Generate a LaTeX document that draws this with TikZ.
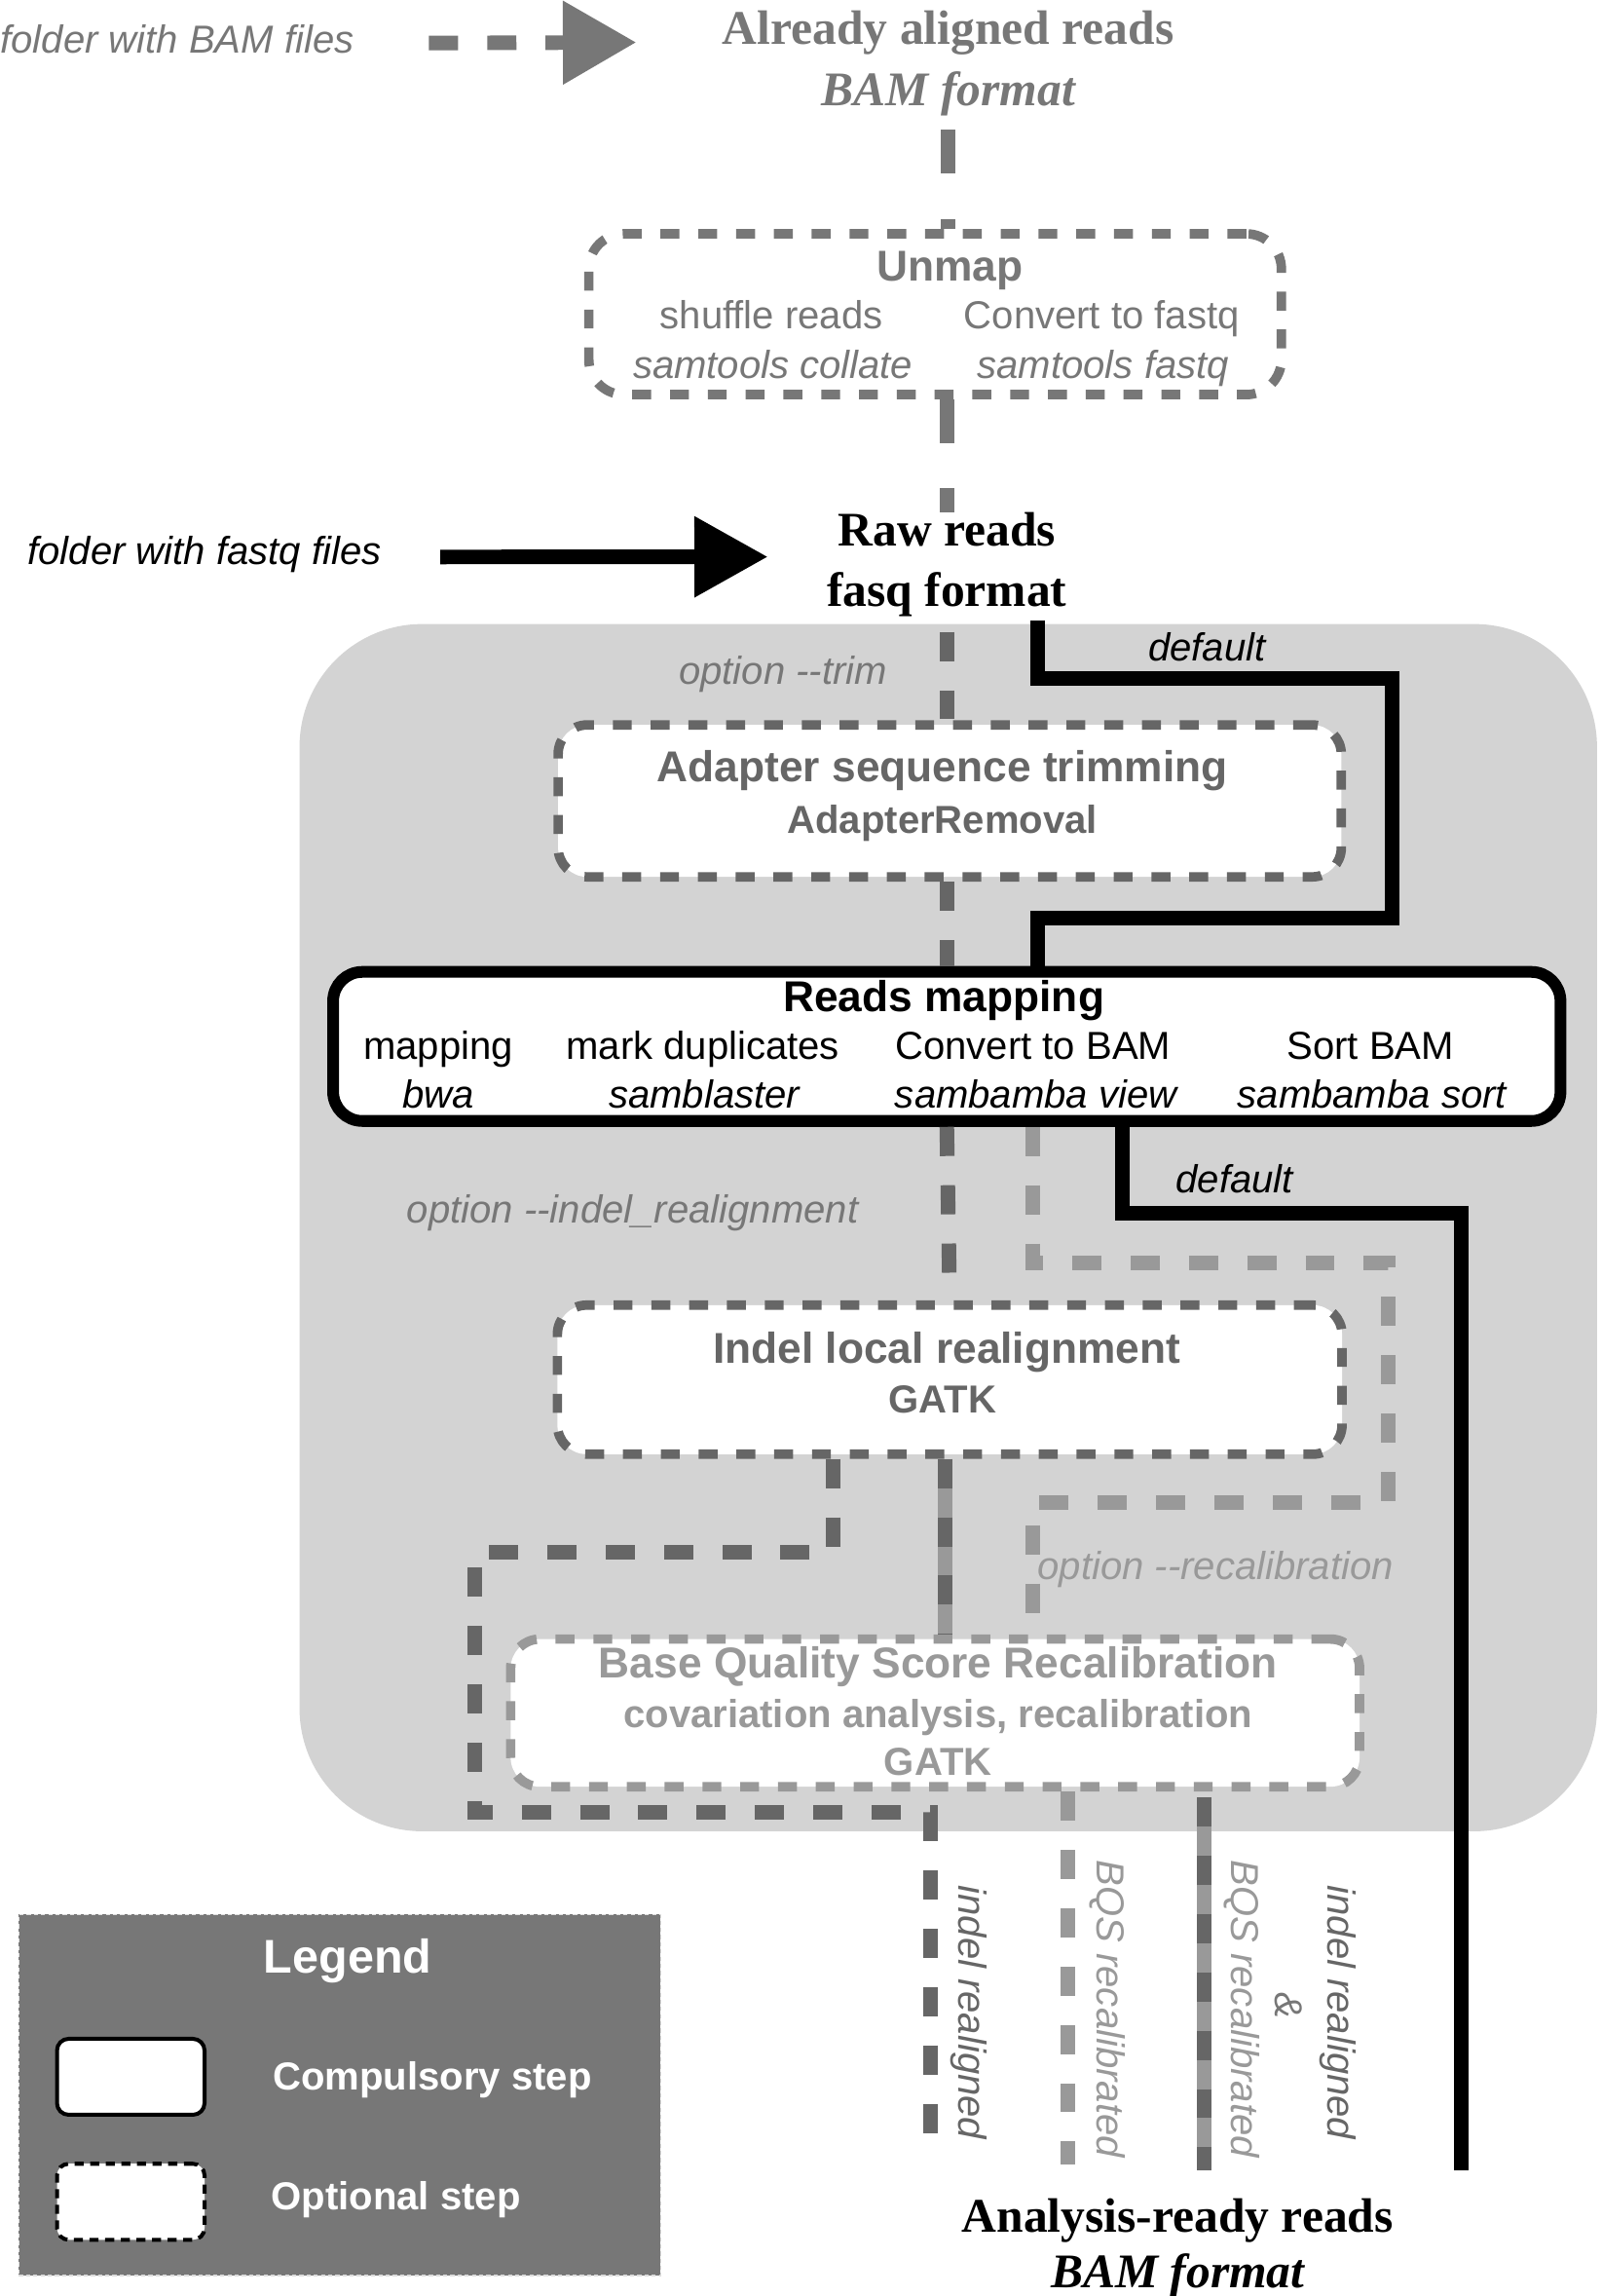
\documentclass[tikz,border=0pt]{standalone}
\usepackage{fontspec}
\setmainfont{Liberation Sans}
\newfontfamily\titlefont{Liberation Serif}
\usepackage{xcolor}
\usepackage{tikz}
\usetikzlibrary{calc,arrows.meta}
\definecolor{bg}{HTML}{D3D3D3}
\definecolor{dk}{HTML}{666666}
\definecolor{md}{HTML}{777777}
\definecolor{lt}{HTML}{999999}
\newcommand\optdash{-\kern0pt-}
\tikzset{
  txt/.style={inner sep=0pt, anchor=base, font=\fontsize{19}{23}\selectfont},
  txti/.style={txt, font=\fontsize{19}{23}\selectfont\itshape},
  txtb/.style={txt, font=\fontsize{19}{23}\selectfont\bfseries},
  head/.style={txt, font=\fontsize{21}{25}\selectfont\bfseries},
  ttl/.style={txt, font=\titlefont\fontsize{23.5}{28}\selectfont\bfseries},
  ttli/.style={txt, font=\titlefont\fontsize{23.5}{28}\selectfont\bfseries\itshape},
  rot/.style={inner sep=0pt, rotate=-90, font=\fontsize{19}{23}\selectfont\itshape},
  optbox/.style={draw=#1, rounded corners=5mm, fill=white, line width=4.6pt, dash pattern=on 9.2pt off 9.2pt, inner sep=0pt},
  mapbox/.style={draw=black, rounded corners=5mm, fill=white, line width=5.7pt, inner sep=0pt},
  flow/.style={line width=7.1pt, dash pattern=on 14.2pt off 14.2pt},
  topl/.style={draw=md, line width=7.1pt, dash pattern=on 21.3pt off 22pt},
  defl/.style={draw=black, line width=7.1pt},
  mixl/.style={flow, draw=dk, preaction={draw=lt, line width=7.1pt, solid}},
  legbox/.style={rounded corners=2mm, fill=white, line width=1.9pt, inner sep=0pt, minimum width=25.25mm, minimum height=13mm},
}

\begin{document}
\begin{tikzpicture}[x=0.25mm, y=-0.25mm]
  \useasboundingbox (0,0) rectangle (1096,1571);
  % grey panel behind the processing steps
  \fill[bg, rounded corners=21mm] (205,427) rectangle (1093,1253);

  % inputs
  \node[txti, text=md, anchor=base west] (bamin) at (0,36) {folder with BAM files};
  \node[ttl, text=md] (bam) at (649,30.4) {Already aligned reads};
  \node[ttli, text=md] (bamfmt) at (649,72.5) {BAM format};
  \node[txti] (fqin) at (140,386) {folder with fastq files};
  \node[ttl] (raw) at (648,373.5) {Raw reads};
  \node[ttl] (rawfmt) at (648,415) {fasq format};
  \coordinate (bamtip) at (435,29);
  \coordinate (fqtip) at (525,381);

  % steps
  \node[optbox=md, rounded corners=6mm, minimum width=118.5mm, minimum height=27.5mm] (unmap) at (640,215) {};
  \node[head, text=md] (unmapT) at (650,192) {Unmap};
  \node[txt, text=md] (shuf) at (528,225) {shuffle reads};
  \node[txt, text=md] (conv) at (754,225) {Convert to fastq};
  \node[txti, text=md] (coll) at (529,259) {samtools collate};
  \node[txti, text=md] (stfq) at (755,259) {samtools fastq};

  \node[optbox=dk, minimum width=134mm, minimum height=26mm] (trim) at (650,548) {};
  \node[head, text=dk] (trimT) at (645,535) {Adapter sequence trimming};
  \node[txtb, text=dk] (trimS) at (645,570) {AdapterRemoval};

  \node[mapbox, minimum width=210mm, minimum height=25.5mm] (map) at (648,716) {};
  \node[head] (mapT) at (646,692) {Reads mapping};
  \node[txt] (bwaT) at (300,725) {mapping};
  \node[txti] (bwa) at (300,758) {bwa};
  \node[txt] (dupT) at (481,725) {mark duplicates};
  \node[txti] (dup) at (482,758) {samblaster};
  \node[txt] (viewT) at (707,725) {Convert to BAM};
  \node[txti] (view) at (709,758) {sambamba view};
  \node[txt] (sortT) at (938,725) {Sort BAM};
  \node[txti] (sort) at (939,758) {sambamba sort};

  \node[optbox=dk, minimum width=134.25mm, minimum height=25.5mm] (indel) at (650,944) {};
  \node[head, text=dk] (indelT) at (648,933) {Indel local realignment};
  \node[txtb, text=dk] (indelS) at (645,967) {GATK};

  \node[optbox=lt, minimum width=145.25mm, minimum height=25.25mm] (bqsr) at (640,1172) {};
  \node[head, text=lt] (bqsrT) at (642,1148) {Base Quality Score Recalibration};
  \node[txtb, text=lt] (bqsrS) at (642,1182) {covariation analysis, recalibration};
  \node[txtb, text=lt] (bqsrG) at (642,1215) {GATK};

  % option labels
  \node[txti, text=md] (trimopt) at (536,468) {option \optdash trim};
  \node[txti] (def1) at (826,452) {default};
  \node[txti, text=md] (indelopt) at (433,837) {option \optdash indel\_realignment};
  \node[txti] (def2) at (845,816) {default};
  \node[txti, text=lt] (recalopt) at (832,1081) {option \optdash recalibration};

  % connectors
  \draw[flow, draw=md, -{Triangle[length=35.4pt, width=41pt, line width=0pt]}] ($(bamin.east)+(51,3)$) -- (bamtip);
  \draw[defl, -{Triangle[length=35.4pt, width=39.7pt, line width=0pt]}] ($(fqin.east)+(40,2)$) -- (fqtip);
  \draw[topl] ($(bamfmt.south)+(0,9)$) -- (bamfmt.south |- unmap.north);
  \draw[topl] (unmap.south -| raw.north) -- (raw.north);
  \draw[flow, draw=dk] ($(rawfmt.south)+(0,10)$) -- (rawfmt.south |- trim.north);
  \draw[flow, draw=dk] (trim.south -| rawfmt.south) -- (rawfmt.south |- map.north);
  \draw[defl] ($(rawfmt.south)+(62,2)$) coordinate (d1) |- ++(243,40) |- ++(-243,164) -- (d1 |- map.north);
  \draw[flow, draw=dk] (map.south) -- (indel.north);
  \draw[flow, draw=lt] ($(map.south)+(59,0)$) coordinate (r1) |- ++(243,93) |- ++(-243,164) -- (r1 |- bqsr.north);
  \draw[mixl] ($(indel.south)+(-3,0)$) coordinate (m1) -- (m1 |- bqsr.north);

  % outputs
  \coordinate (outA) at (637,1468);
  \coordinate (outB) at (731,1481);
  \coordinate (outC) at (824,1485);
  \coordinate (outD) at (1000,1485);
  \draw[defl] ($(map.south)+(120,0)$) |- ++(232,59) -- (outD);
  \draw[flow, draw=dk] ($(indel.south)+(-80,0)$) |- ++(-245,64) |- ++(312,178) -- (outA);
  \draw[flow, draw=lt] ($(bqsr.south)+(91,0)$) -- (outB);
  \draw[mixl] ($(bqsr.south)+(184,4)$) -- (outC);
  \node[rot, text=dk] (lblA) at (663,1377) {indel realigned};
  \node[rot, text=lt] (lblB) at (758,1374.5) {BQS recalibrated};
  \node[rot, text=dk] (lblC) at (916,1377) {indel realigned};
  \node[rot, text=md] (lblCa) at (882,1372) {\&};
  \node[rot, text=lt] (lblCb) at (850,1374.5) {BQS recalibrated};
  \node[ttl] (ready) at (806,1527) {Analysis-ready reads};
  \node[ttli] (readyfmt) at (806,1565) {BAM format};

  % legend
  \node[draw=white!75!md, fill=md, line width=0.6pt, dash pattern=on 2pt off 1.5pt, minimum width=109.75mm, minimum height=61.75mm, inner sep=0pt] (legend) at (232.5,1433.5) {};
  \node[txt, text=white, font=\fontsize{23}{27}\selectfont\bfseries] (legT) at (238,1350) {Legend};
  \node[legbox, draw=black] (legC) at (89.5,1421) {};
  \node[txtb, text=white] (legCT) at (296,1430) {Compulsory step};
  \node[legbox, draw=black, dash pattern=on 4.4pt off 3.2pt] (legO) at (89.5,1506.5) {};
  \node[txtb, text=white] (legOT) at (271,1512) {Optional step};
\end{tikzpicture}
\end{document}
